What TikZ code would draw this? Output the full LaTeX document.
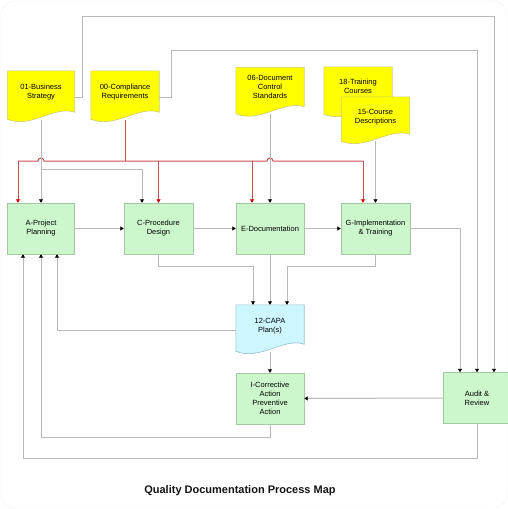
\documentclass[tikz,border=0pt]{standalone}
\usepackage{fontspec}
\setmainfont{Liberation Sans}
\usetikzlibrary{arrows.meta,backgrounds,calc}

% paper with a wavy lower edge, drawn behind the named node
\newcommand{\docwave}[3]{%
  \begin{scope}[on background layer]
    \filldraw[fill=#2, draw=#3, line width=0.6pt]
      (#1.north west) -- (#1.north east) -- ([yshift=11pt]#1.south east)
      .. controls ($(#1.south east)!0.3!(#1.south west)+(0,-18)$)
      and ($(#1.south east)!0.65!(#1.south west)+(0,6)$)
      .. ([yshift=4pt]#1.south west) -- cycle;
  \end{scope}}

\begin{document}
\begin{tikzpicture}[x=1pt,y=-1pt]
            \definecolor{docyellow}{RGB}{255,255,0}
            \definecolor{docline}{RGB}{205,205,120}
            \definecolor{boxgreen}{RGB}{204,247,204}
            \definecolor{boxline}{RGB}{165,200,165}
            \definecolor{capacyan}{RGB}{206,246,255}
            \definecolor{capaline}{RGB}{150,190,205}
            \definecolor{wire}{RGB}{185,185,185}
            \definecolor{redwire}{RGB}{205,80,80}
            \tikzstyle{process} = [rectangle,
            minimum width=67pt,
            minimum height=51pt,
            text centered, align=center,
            inner sep=1pt,
            draw=boxline,
            fill=boxgreen,
            font=\fontsize{7.5}{9}\selectfont]
            \tikzstyle{paper} = [rectangle,
            minimum width=68pt,
            minimum height=51pt,
            text centered, align=center,
            inner sep=1pt, text depth=12pt,
            font=\fontsize{7.5}{9}\selectfont]
            \tikzstyle{wireline} = [line width=1pt, wire]
            \tikzstyle{arrow} = [line width=1pt, wire, -{Triangle[width=4pt,length=3.5pt,color=black]}]
            \tikzstyle{redline} = [line width=1pt, redwire]
            \tikzstyle{redarrow} = [line width=1pt, redwire, -{Triangle[width=4pt,length=3.5pt,color=red!80!black]}]

            \useasboundingbox (0,0) rectangle (508,509);
            \draw[gray!12, rounded corners=14pt] (1,1) rectangle (507,508);

            % source documents
            \node (strategy)[paper, minimum width=67pt, minimum height=52pt] at (41,97) {01-Business\\Strategy};
            \node (compliance)[paper, minimum height=52pt] at (125,97) {00-Compliance\\Requirements};
            \node (docstd)[paper, minimum height=50pt] at (270,92.5) {06-Document\\Control\\Standards};
            \node (training)[paper] at (358,92.5) {18-Training\\Courses};
            \node (courses)[paper, minimum height=48pt, text depth=9pt] at (375.5,121) {15-Course\\Descriptions};
            \docwave{strategy}{docyellow}{docline}
            \docwave{compliance}{docyellow}{docline}
            \docwave{docstd}{docyellow}{docline}
            \docwave{training}{docyellow}{docline}
            \docwave{courses}{docyellow}{docline}

            % process steps
            \node (planning)[process] at (41,228.5) {A-Project\\Planning};
            \node (procedure)[process, minimum width=69pt] at (158.5,228.5) {C-Procedure\\Design};
            \node (documentation)[process, minimum width=68pt] at (270,228.5) {E-Documentation};
            \node (implementation)[process, minimum width=69pt] at (375.5,228.5) {G-Implementation\\\& Training};
            \node (capa)[paper, minimum height=50pt, text depth=9pt] at (270,330) {12-CAPA\\Plan(s)};
            \docwave{capa}{capacyan}{capaline}
            \node (corrective)[process, minimum width=68pt] at (270,398.5) {I-Corrective\\Action\\Preventive\\Action};
            \node (audit)[process, minimum width=68pt] at (477,398) {Audit \&\\Review};

            \node (title) at (240,491) {\fontsize{11}{13}\selectfont\bfseries\color{gray!15!black}Quality Documentation Process Map};

            % loops up to the audit
            \draw [arrow] (strategy.east) -| (82,16) -| ([xshift=17pt]audit.north);
            \draw [arrow] (compliance.east) -| (171,50) -| (audit.north);
            \draw [arrow] (implementation.east) -| ([xshift=-17pt]audit.north);

            % red compliance bus
            \coordinate (redbus) at (125,161);
            \coordinate (split) at (41,169);
            \draw [redline] ([yshift=3pt]compliance.south) -- (redbus);
            \draw [redline] ([xshift=-23pt]planning.north |- redbus) -- ([xshift=-3pt]planning.north |- redbus)
                arc (180:360:3) -- ([xshift=-3pt]documentation.north |- redbus)
                arc (180:360:3) -- ([xshift=-12.5pt]implementation.north |- redbus);
            \draw [redarrow] ([xshift=-23pt]planning.north |- redbus) -- ([xshift=-23pt]planning.north);
            \draw [redarrow] (procedure.north |- redbus) -- (procedure.north);
            \draw [redarrow] ([xshift=-18pt]documentation.north |- redbus) -- ([xshift=-18pt]documentation.north);
            \draw [redarrow] ([xshift=-12.5pt]implementation.north |- redbus) -- ([xshift=-12.5pt]implementation.north);

            % documents into the steps
            \draw [arrow] ([yshift=3pt]strategy.south) -- (planning.north);
            \draw [arrow] (split) -| ([xshift=-16.5pt]procedure.north);
            \draw [arrow] ([yshift=4pt]docstd.south) -- (documentation.north);
            \draw [arrow] ([yshift=4pt]courses.south) -- (implementation.north);

            % step to step
            \draw [arrow] (planning) -- (procedure);
            \draw [arrow] (procedure) -- (documentation);
            \draw [arrow] (documentation) -- (implementation);

            % into the CAPA plan
            \draw [arrow] (procedure.south) -- ++(0,12) -| ([xshift=-17pt]capa.north);
            \draw [arrow] (documentation.south) -- (capa.north);
            \draw [arrow] (implementation.south) -- ++(0,12) -| ([xshift=17pt]capa.north);
            \draw [arrow] (capa.west) -| ([xshift=16pt]planning.south);
            \draw [arrow] ([yshift=3pt]capa.south) -- (corrective.north);

            % back to planning
            \draw [arrow] (audit) -- (corrective);
            \draw [arrow] (corrective.south) -- ++(0,13) -| (planning.south);
            \draw [arrow] (audit.south) -- ++(0,35) -| ([xshift=-18pt]planning.south);
        \end{tikzpicture}
\end{document}
